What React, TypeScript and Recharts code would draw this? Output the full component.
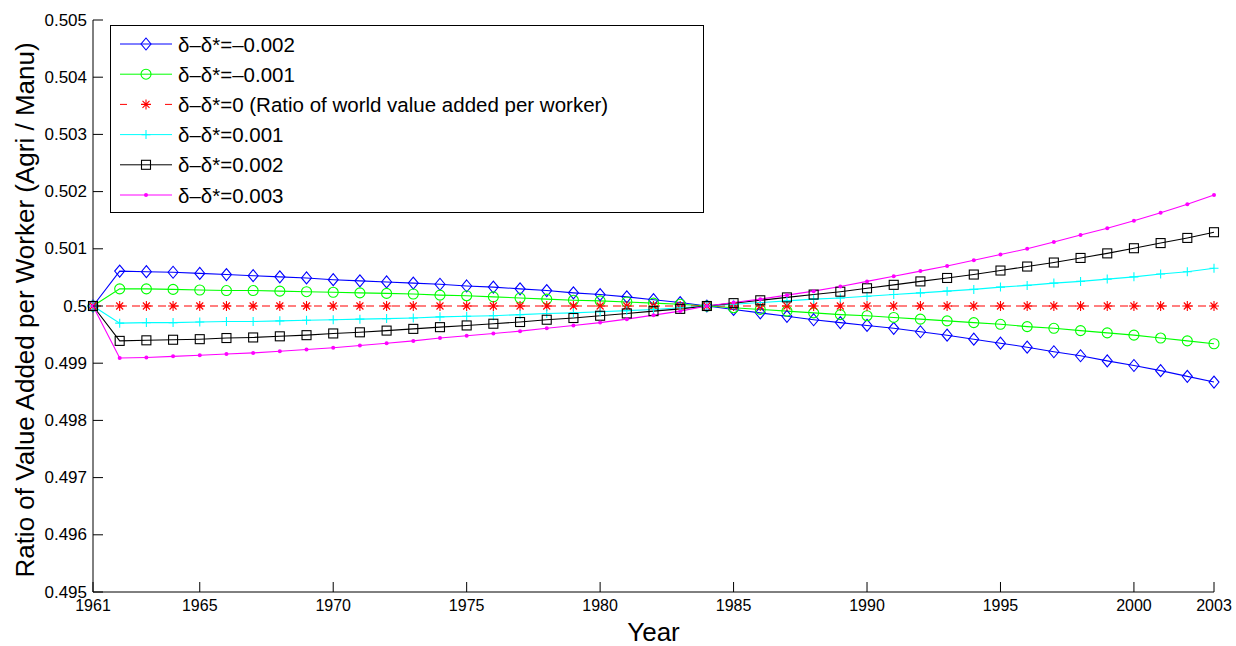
import React from 'react'
import { LineChart, Line, XAxis, YAxis, Legend } from 'recharts'

// Years covered by the simulation
const YEARS = [
  1961, 1962, 1963, 1964, 1965, 1966, 1967, 1968, 1969, 1970,
  1971, 1972, 1973, 1974, 1975, 1976, 1977, 1978, 1979, 1980,
  1981, 1982, 1983, 1984, 1985, 1986, 1987, 1988, 1989, 1990,
  1991, 1992, 1993, 1994, 1995, 1996, 1997, 1998, 1999, 2000,
  2001, 2002, 2003,
]

// Ratio of value added per worker (agri / manu) for each δ−δ* gap
const GAP_M002 = [
  0.5, 0.50061, 0.5006, 0.50059, 0.50057, 0.50055, 0.50053, 0.50051, 0.50049, 0.50046,
  0.50044, 0.50042, 0.5004, 0.50038, 0.50035, 0.50033, 0.5003, 0.50027, 0.50023, 0.5002,
  0.50016, 0.50011, 0.50006, 0.5, 0.49994, 0.49988, 0.49982, 0.49976, 0.49971, 0.49966,
  0.49961, 0.49955, 0.49949, 0.49942, 0.49935, 0.49928, 0.4992, 0.49913, 0.49904, 0.49896,
  0.49887, 0.49877, 0.49867,
]
const GAP_M001 = [
  0.5, 0.5003, 0.5003, 0.50029, 0.50028, 0.50027, 0.50027, 0.50026, 0.50025, 0.50024,
  0.50023, 0.50022, 0.50021, 0.50019, 0.50018, 0.50016, 0.50014, 0.50012, 0.5001, 0.50009,
  0.50007, 0.50005, 0.50003, 0.5, 0.49997, 0.49994, 0.49991, 0.49988, 0.49985, 0.49983,
  0.4998, 0.49977, 0.49974, 0.49971, 0.49968, 0.49964, 0.49961, 0.49957, 0.49953, 0.49949,
  0.49944, 0.49939, 0.49934,
]
const GAP_ZERO = [
  0.5, 0.5, 0.5, 0.5, 0.5, 0.5, 0.5, 0.5, 0.5, 0.5,
  0.5, 0.5, 0.5, 0.5, 0.5, 0.5, 0.5, 0.5, 0.5, 0.5,
  0.5, 0.5, 0.5, 0.5, 0.5, 0.5, 0.5, 0.5, 0.5, 0.5,
  0.5, 0.5, 0.5, 0.5, 0.5, 0.5, 0.5, 0.5, 0.5, 0.5,
  0.5, 0.5, 0.5,
]
const GAP_P001 = [
  0.5, 0.4997, 0.49971, 0.49971, 0.49972, 0.49973, 0.49973, 0.49974, 0.49975, 0.49976,
  0.49977, 0.49978, 0.49979, 0.49981, 0.49982, 0.49983, 0.49985, 0.49987, 0.49988, 0.4999,
  0.49992, 0.49994, 0.49997, 0.5, 0.50003, 0.50006, 0.50009, 0.50012, 0.50014, 0.50017,
  0.5002, 0.50023, 0.50026, 0.50029, 0.50033, 0.50036, 0.5004, 0.50043, 0.50047, 0.50051,
  0.50056, 0.5006, 0.50066,
]
const GAP_P002 = [
  0.5, 0.49939, 0.4994, 0.49941, 0.49942, 0.49944, 0.49945, 0.49947, 0.49949, 0.49952,
  0.49954, 0.49957, 0.4996, 0.49963, 0.49966, 0.49969, 0.49972, 0.49976, 0.49979, 0.49983,
  0.49987, 0.49991, 0.49995, 0.5, 0.50005, 0.5001, 0.50015, 0.5002, 0.50025, 0.50031,
  0.50037, 0.50043, 0.50049, 0.50055, 0.50062, 0.50069, 0.50076, 0.50084, 0.50092, 0.50101,
  0.5011, 0.50119, 0.50129,
]
const GAP_P003 = [
  0.5, 0.49909, 0.4991, 0.49912, 0.49914, 0.49916, 0.49918, 0.49921, 0.49924, 0.49927,
  0.49931, 0.49935, 0.49939, 0.49944, 0.49948, 0.49952, 0.49956, 0.49961, 0.49966, 0.49971,
  0.49977, 0.49984, 0.49991, 0.5, 0.50006, 0.50012, 0.50019, 0.50026, 0.50034, 0.50043,
  0.50052, 0.50061, 0.5007, 0.5008, 0.5009, 0.501, 0.50112, 0.50124, 0.50136, 0.50149,
  0.50163, 0.50178, 0.50194,
]

const X_TICKS = [1961, 1965, 1970, 1975, 1980, 1985, 1990, 1995, 2000, 2003]
const Y_TICKS = [0.495, 0.496, 0.497, 0.498, 0.499, 0.5, 0.501, 0.502, 0.503, 0.504, 0.505]

type MarkerKind = 'diamond' | 'circle' | 'star' | 'plus' | 'square' | 'dot'

const SERIES: { key: string; label: string; color: string; marker: MarkerKind; dashed?: boolean; values: number[] }[] = [
  { key: 'm002', label: 'δ–δ*=–0.002', color: '#0000ff', marker: 'diamond', values: GAP_M002 },
  { key: 'm001', label: 'δ–δ*=–0.001', color: '#00ff00', marker: 'circle', values: GAP_M001 },
  { key: 'zero', label: 'δ–δ*=0 (Ratio of world value added per worker)', color: '#ff0000', marker: 'star', dashed: true, values: GAP_ZERO },
  { key: 'p001', label: 'δ–δ*=0.001', color: '#00ffff', marker: 'plus', values: GAP_P001 },
  { key: 'p002', label: 'δ–δ*=0.002', color: '#000000', marker: 'square', values: GAP_P002 },
  { key: 'p003', label: 'δ–δ*=0.003', color: '#ff00ff', marker: 'dot', values: GAP_P003 },
]

const DATA = YEARS.map((year, i) => {
  const row: Record<string, number> = { year }
  SERIES.forEach(s => { row[s.key] = s.values[i] })
  return row
})

const FONT = '"Liberation Sans", Arial, Helvetica, sans-serif'
const TICK_LEN = 10
const TICK_GAP = 6

const Marker = ({ kind, cx, cy, color }: { kind: MarkerKind; cx: number; cy: number; color: string }) => {
  switch (kind) {
    case 'diamond':
      return <path d={`M${cx},${cy - 6}L${cx + 5},${cy}L${cx},${cy + 6}L${cx - 5},${cy}Z`} fill="none" stroke={color} strokeWidth={1.1} />
    case 'circle':
      return <circle cx={cx} cy={cy} r={5} fill="none" stroke={color} strokeWidth={1.1} />
    case 'square':
      return <rect x={cx - 4.5} y={cy - 4.5} width={9} height={9} fill="none" stroke={color} strokeWidth={1.1} />
    case 'plus':
      return <path d={`M${cx - 4.5},${cy}H${cx + 4.5}M${cx},${cy - 4.5}V${cy + 4.5}`} stroke={color} strokeWidth={1.1} />
    case 'star':
      return (
        <path
          d={`M${cx - 5},${cy}H${cx + 5}M${cx},${cy - 5}V${cy + 5}M${cx - 3.5},${cy - 3.5}L${cx + 3.5},${cy + 3.5}M${cx - 3.5},${cy + 3.5}L${cx + 3.5},${cy - 3.5}`}
          stroke={color}
          strokeWidth={1.1}
        />
      )
    default:
      return <circle cx={cx} cy={cy} r={2} fill={color} stroke="none" />
  }
}

const fmtY = (v: number) => String(parseFloat(v.toFixed(3)))

// ticks point inward, as on a boxed plot
const LeftTick = (p: any) => (
  <g>
    <line x1={p.x + TICK_GAP} y1={p.y} x2={p.x + TICK_GAP + TICK_LEN} y2={p.y} stroke="#000" />
    <text x={p.x} y={p.y} textAnchor="end" dominantBaseline="central" fontSize={17} fontFamily={FONT} fill="#000">
      {fmtY(p.payload.value)}
    </text>
  </g>
)
const RightTick = (p: any) => (
  <line x1={p.x - TICK_GAP} y1={p.y} x2={p.x - TICK_GAP - TICK_LEN} y2={p.y} stroke="#000" />
)
const BottomTick = (p: any) => (
  <g>
    <line x1={p.x} y1={p.y - TICK_GAP} x2={p.x} y2={p.y - TICK_GAP - TICK_LEN} stroke="#000" />
    <text x={p.x} y={p.y + 2} textAnchor="middle" dominantBaseline="hanging" fontSize={16} fontFamily={FONT} fill="#000">
      {p.payload.value}
    </text>
  </g>
)
const TopTick = (p: any) => (
  <line x1={p.x} y1={p.y + TICK_GAP} x2={p.x} y2={p.y + TICK_GAP + TICK_LEN} stroke="#000" />
)

const YTitle = ({ viewBox }: any) => {
  const cx = viewBox.x + 25
  const cy = viewBox.y + viewBox.height / 2 + 4
  return (
    <text x={cx} y={cy} transform={`rotate(-90, ${cx}, ${cy})`} textAnchor="middle" dominantBaseline="central" fontSize={26} fontFamily={FONT} fill="#000">
      Ratio of Value Added per Worker (Agri / Manu)
    </text>
  )
}
const XTitle = ({ viewBox }: any) => (
  <text x={viewBox.x + viewBox.width / 2} y={viewBox.y + viewBox.height - 5} textAnchor="middle" fontSize={26} fontFamily={FONT} fill="#000">
    Year
  </text>
)

const LegendBox = () => (
  <div style={{ width: 594, height: 188, border: '1px solid #000', background: '#fff', boxSizing: 'border-box' }}>
    <svg width={592} height={186} style={{ display: 'block' }}>
      {SERIES.map((s, i) => {
        const cy = 18 + i * 30.2
        return (
          <g key={s.key}>
            {s.dashed ? (
              <>
                <line x1={9} y1={cy} x2={16} y2={cy} stroke={s.color} />
                <line x1={54} y1={cy} x2={61} y2={cy} stroke={s.color} />
              </>
            ) : (
              <line x1={9} y1={cy} x2={61} y2={cy} stroke={s.color} />
            )}
            <Marker kind={s.marker} cx={35} cy={cy} color={s.color} />
            <text x={67} y={cy} dominantBaseline="central" fontSize={20.5} fontFamily={FONT} fill="#000">
              {s.label}
            </text>
          </g>
        )
      })}
    </svg>
  </div>
)

export default function App() {
  return (
    <div style={{ position: 'absolute', left: 0, top: 0, background: '#fff' }}>
      <LineChart width={1236} height={646} data={DATA} margin={{ top: 20, right: 22, bottom: 0, left: 0 }}>
        <XAxis
          dataKey="year"
          type="number"
          domain={[1961, 2003]}
          ticks={X_TICKS}
          interval={0}
          height={54}
          tickSize={0}
          tickMargin={TICK_GAP}
          tickLine={false}
          axisLine={{ stroke: '#000' }}
          tick={<BottomTick />}
          label={<XTitle />}
        />
        <XAxis
          xAxisId="top"
          orientation="top"
          dataKey="year"
          type="number"
          domain={[1961, 2003]}
          ticks={X_TICKS}
          interval={0}
          height={0}
          tickSize={0}
          tickMargin={TICK_GAP}
          tickLine={false}
          axisLine={{ stroke: '#000' }}
          tick={<TopTick />}
        />
        <YAxis
          type="number"
          domain={[0.495, 0.505]}
          ticks={Y_TICKS}
          interval={0}
          width={93}
          tickSize={0}
          tickMargin={TICK_GAP}
          tickLine={false}
          axisLine={{ stroke: '#000' }}
          tick={<LeftTick />}
          label={<YTitle />}
        />
        <YAxis
          yAxisId="right"
          orientation="right"
          type="number"
          domain={[0.495, 0.505]}
          ticks={Y_TICKS}
          interval={0}
          width={0}
          tickSize={0}
          tickMargin={TICK_GAP}
          tickLine={false}
          axisLine={{ stroke: '#000' }}
          tick={<RightTick />}
        />
        {SERIES.map(s => (
          <Line
            key={s.key}
            dataKey={s.key}
            name={s.label}
            type="linear"
            stroke={s.color}
            strokeWidth={1.1}
            strokeDasharray={s.dashed ? '8 5' : undefined}
            dot={(p: any) => <Marker key={`${s.key}-${p.index}`} kind={s.marker} cx={p.cx} cy={p.cy} color={s.color} />}
            activeDot={false}
            isAnimationActive={false}
          />
        ))}
        <Legend
          layout="vertical"
          align="center"
          verticalAlign="middle"
          wrapperStyle={{ left: 110, top: 25, width: 594, height: 188 }}
          content={() => <LegendBox />}
        />
      </LineChart>
    </div>
  )
}
